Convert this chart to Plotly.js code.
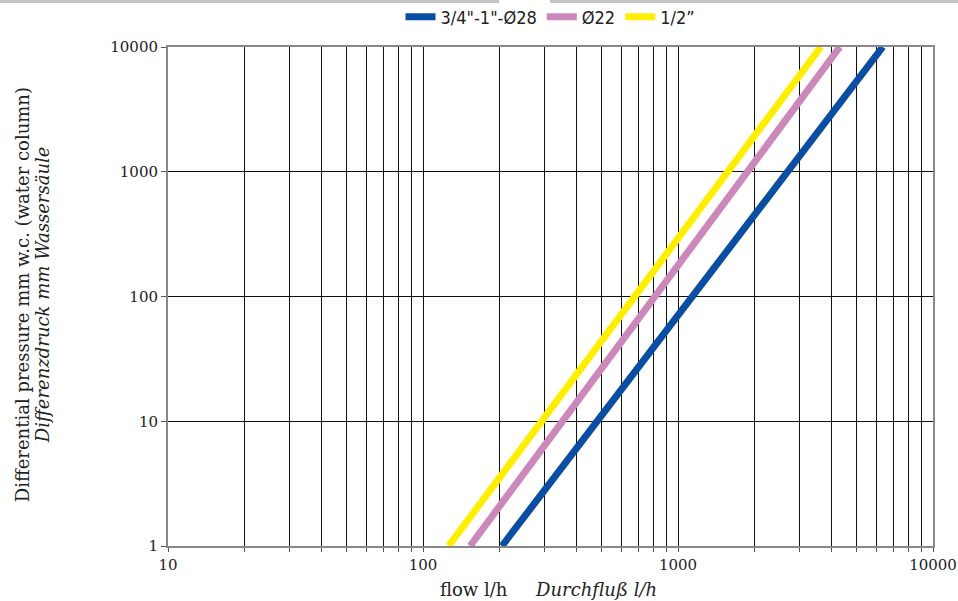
<!DOCTYPE html>
<html><head><meta charset="utf-8">
<script src="https://cdn.plot.ly/plotly-3.0.1.min.js"></script>
<style>
html,body{margin:0;padding:0;background:#fff;}
#wrap{position:relative;width:958px;height:601px;}
#chart{width:958px;height:601px;}
.topline{position:absolute;top:0;height:3px;background:#c4c4c4;}
</style></head>
<body>
<div id="wrap">
<div id="chart"></div>
<div class="topline" style="left:0;width:499px;"></div>
<div class="topline" style="left:550px;width:408px;"></div>
</div>
<script>
// Series (flow l/h -> differential pressure mm w.c.)
const seriesNames = ['3/4"-1"-Ø28', 'Ø22', '1/2”'];
const seriesColors = ['#0a4ea3', '#cc88bb', '#ffee00'];
const flow28 = [204, 6350];
const dp28 = [1, 10000];
const flow22 = [153, 4310];
const dp22 = [1, 10000];
const flowHalf = [126, 3630];
const dpHalf = [1, 10000];

const xTickVals = [10,20,30,40,50,60,70,80,90,100,200,300,400,500,600,700,800,900,1000,2000,3000,4000,5000,6000,7000,8000,9000,10000];
const xTickText = xTickVals.map(v => [10,100,1000,10000].includes(v) ? String(v) : '');
const yTickVals = [1,10,100,1000,10000];
const yTickText = ['1','10','100','1000','10000'];

const font = 'DejaVu Serif, Liberation Serif, serif';
const traces = [
  {x: flow28, y: dp28, name: seriesNames[0], color: seriesColors[0]},
  {x: flow22, y: dp22, name: seriesNames[1], color: seriesColors[1]},
  {x: flowHalf, y: dpHalf, name: seriesNames[2], color: seriesColors[2]}
].map(s => ({x: s.x, y: s.y, name: s.name, type: 'scatter', mode: 'lines',
  line: {color: s.color, width: 7}}));

const layout = {
  width: 958, height: 601,
  margin: {l: 168, r: 25, t: 47, b: 55, autoexpand: false},
  paper_bgcolor: '#fff', plot_bgcolor: '#fff',
  font: {family: font, size: 15, color: '#222'},
  showlegend: true,
  legend: {orientation: 'h', x: 0.5, xanchor: 'center', y: 1.06, yanchor: 'middle',
    font: {family: 'DejaVu Sans Condensed, Liberation Sans Narrow, Liberation Sans, sans-serif', size: 18, color: '#222'},
    itemwidth: 30, traceorder: 'normal', tracegroupgap: 0},
  xaxis: {type: 'log', range: [1, 4], tickvals: xTickVals, ticktext: xTickText,
    ticks: 'outside', ticklen: 4, tickcolor: '#555',
    showgrid: true, gridcolor: '#111', gridwidth: 1,
    showline: true, linecolor: '#888', linewidth: 2, mirror: true,
    zeroline: false, tickfont: {family: font, size: 15, color: '#222'}},
  yaxis: {type: 'log', range: [0, 4], tickvals: yTickVals, ticktext: yTickText,
    ticks: 'outside', ticklen: 5, tickcolor: '#555',
    showgrid: true, gridcolor: '#111', gridwidth: 1,
    showline: true, linecolor: '#888', linewidth: 2, mirror: true,
    zeroline: false, tickfont: {family: font, size: 15, color: '#222'}},
  annotations: [
    {text: 'flow l/h     <i>Durchfluß l/h</i>', xref: 'paper', yref: 'paper', x: 0.497, y: -0.088,
      xanchor: 'center', yanchor: 'middle', showarrow: false, font: {family: font, size: 18, color: '#222'}},
    {text: 'Differential pressure mm w.c. (water column)', xref: 'paper', yref: 'paper', x: -0.1905, y: 0.503,
      xanchor: 'center', yanchor: 'middle', textangle: -90, showarrow: false, font: {family: font, size: 18, color: '#222'}},
    {text: '<i>Differenzdruck mm Wassersäule</i>', xref: 'paper', yref: 'paper', x: -0.1645, y: 0.503,
      xanchor: 'center', yanchor: 'middle', textangle: -90, showarrow: false, font: {family: font, size: 18, color: '#222'}}
  ]
};
Plotly.newPlot('chart', traces, layout, {displayModeBar: false, staticPlot: true});
</script>
</body></html>
